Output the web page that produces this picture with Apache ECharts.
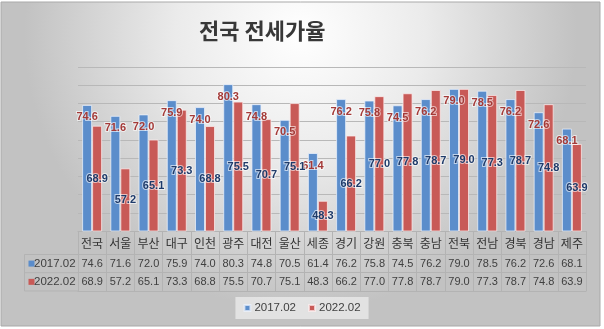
<!DOCTYPE html>
<html>
<head>
<meta charset="utf-8">
<script src="https://cdn.jsdelivr.net/npm/echarts@6/dist/echarts.min.js"></script>
<style>
  html, body { margin: 0; padding: 0; background: #fff; }
  #chart { width: 604px; height: 329px; }
</style>
</head>
<body>
<div id="chart"></div>
<script>
// Jeonse-to-sale price ratio by region (%)
const regions = ['전국', '서울', '부산', '대구', '인천', '광주', '대전', '울산', '세종',
                 '경기', '강원', '충북', '충남', '전북', '전남', '경북', '경남', '제주'];
const ratio2017 = [74.6, 71.6, 72.0, 75.9, 74.0, 80.3, 74.8, 70.5, 61.4,
                   76.2, 75.8, 74.5, 76.2, 79.0, 78.5, 76.2, 72.6, 68.1];
const ratio2022 = [68.9, 57.2, 65.1, 73.3, 68.8, 75.5, 70.7, 75.1, 48.3,
                   66.2, 77.0, 77.8, 78.7, 79.0, 77.3, 78.7, 74.8, 63.9];
const seriesNames = ['2017.02', '2022.02'];
const yTicks = { min: 40, max: 85, step: 5 };

const BLUE = '#5b8dcb';
const RED = '#c85a57';
const LINE = '#b3b3b3';
const KR = "'Noto Sans CJK KR', 'Noto Sans', sans-serif";
const NUM = "'Liberation Sans', 'Noto Sans', sans-serif";

// layout of the plot and the data table below it
const L = { left: 78, right: 586, top: 67, axis: 231, row1: 254.5, row2: 272.7, row3: 291, tableLeft: 24.5 };

const chart = echarts.init(document.getElementById('chart'), null, { renderer: 'canvas' });

const fmt = v => v.toFixed(1);

function tableAxis(offset, values) {
  return {
    type: 'category', data: regions, position: 'bottom', offset: offset,
    axisLine: { show: true, lineStyle: { color: LINE } },
    axisTick: { show: false },
    axisLabel: values ? {
      show: true, interval: 0, margin: 3.5,
      formatter: (v, i) => fmt(values[i]),
      fontFamily: NUM, fontSize: 11, color: '#404040'
    } : { show: false },
    splitLine: { show: false }
  };
}

const option = {
  backgroundColor: '#ffffff',
  animation: false,
  title: {
    text: '전국 전세가율', left: 199, top: 20, padding: 0,
    textStyle: { fontFamily: KR, fontSize: 22, fontWeight: 'bold', color: '#383838' }
  },
  legend: {
    data: seriesNames, left: 'center', top: 297,
    padding: [5, 8], itemWidth: 6, itemHeight: 6, itemGap: 12,
    icon: 'rect', backgroundColor: 'rgba(232,232,232,0.85)',
    textStyle: { fontFamily: NUM, fontSize: 11.5, color: '#404040', padding: [0, 0, 0, -1] }
  },
  grid: { left: L.left, right: 604 - L.right, top: L.top, bottom: 329 - L.axis, containLabel: false },
  xAxis: [
    {
      type: 'category', data: regions, position: 'bottom',
      axisLine: { show: true, lineStyle: { color: LINE } },
      axisTick: { show: true, alignWithLabel: false, interval: 0, length: L.row3 - L.axis, lineStyle: { color: LINE } },
      axisLabel: { interval: 0, margin: 6, fontFamily: KR, fontSize: 12, color: '#333' }
    },
    tableAxis(L.row1 - L.axis, ratio2017),
    tableAxis(L.row2 - L.axis, ratio2022),
    tableAxis(L.row3 - L.axis, null)
  ],
  yAxis: {
    type: 'value', min: yTicks.min, max: yTicks.max, interval: yTicks.step,
    axisLabel: { show: false }, axisLine: { show: false }, axisTick: { show: false },
    splitLine: { lineStyle: { color: '#b8b8b8', width: 1 } }
  },
  series: [
    {
      name: seriesNames[0], type: 'bar', data: ratio2017, barWidth: 10, barGap: '0%',
      itemStyle: { color: BLUE, borderColor: 'rgba(235,242,252,0.75)', borderWidth: 1 },
      label: {
        show: true, position: 'insideTop', distance: 7, formatter: p => fmt(p.value),
        fontFamily: NUM, fontSize: 11, fontWeight: 'bold', color: '#a43a38',
        textBorderColor: 'rgba(255,255,255,0.6)', textBorderWidth: 2
      }
    },
    {
      name: seriesNames[1], type: 'bar', data: ratio2022, barWidth: 10,
      itemStyle: { color: RED, borderColor: 'rgba(252,236,236,0.75)', borderWidth: 1 },
      label: {
        show: true, position: 'inside', formatter: p => fmt(p.value),
        fontFamily: NUM, fontSize: 11, fontWeight: 'bold', color: '#1f3b6a',
        textBorderColor: 'rgba(255,255,255,0.6)', textBorderWidth: 2
      }
    }
  ],
  graphic: [
    // panel background
    {
      type: 'rect', z: -10, silent: true,
      shape: { x: 1, y: 2, width: 599, height: 324 },
      style: {
        fill: {
          type: 'radial', x: 0.5, y: 0.1, r: 0.85,
          colorStops: [
            { offset: 0, color: '#ffffff' },
            { offset: 0.45, color: '#ebebeb' },
            { offset: 1, color: '#c2c2c2' }
          ]
        },
        stroke: '#a9a9a9', lineWidth: 1
      }
    },
    // series-name column of the data table
    { type: 'line', silent: true, shape: { x1: L.tableLeft, y1: L.row1, x2: L.left, y2: L.row1 }, style: { stroke: LINE, lineWidth: 1 } },
    { type: 'line', silent: true, shape: { x1: L.tableLeft, y1: L.row2, x2: L.left, y2: L.row2 }, style: { stroke: LINE, lineWidth: 1 } },
    { type: 'line', silent: true, shape: { x1: L.tableLeft, y1: L.row3, x2: L.left, y2: L.row3 }, style: { stroke: LINE, lineWidth: 1 } },
    { type: 'line', silent: true, shape: { x1: L.tableLeft, y1: L.row1, x2: L.tableLeft, y2: L.row3 }, style: { stroke: LINE, lineWidth: 1 } },
    { type: 'rect', silent: true, shape: { x: 28.5, y: (L.row1 + L.row2) / 2 - 3, width: 6, height: 6 }, style: { fill: BLUE } },
    { type: 'rect', silent: true, shape: { x: 28.5, y: (L.row2 + L.row3) / 2 - 3, width: 6, height: 6 }, style: { fill: RED } },
    {
      type: 'text', silent: true, x: 34, y: (L.row1 + L.row2) / 2,
      style: { text: seriesNames[0], font: '11.5px ' + NUM, fill: '#404040', verticalAlign: 'middle' }
    },
    {
      type: 'text', silent: true, x: 34, y: (L.row2 + L.row3) / 2,
      style: { text: seriesNames[1], font: '11.5px ' + NUM, fill: '#404040', verticalAlign: 'middle' }
    }
  ]
};

chart.setOption(option);
</script>
</body>
</html>
